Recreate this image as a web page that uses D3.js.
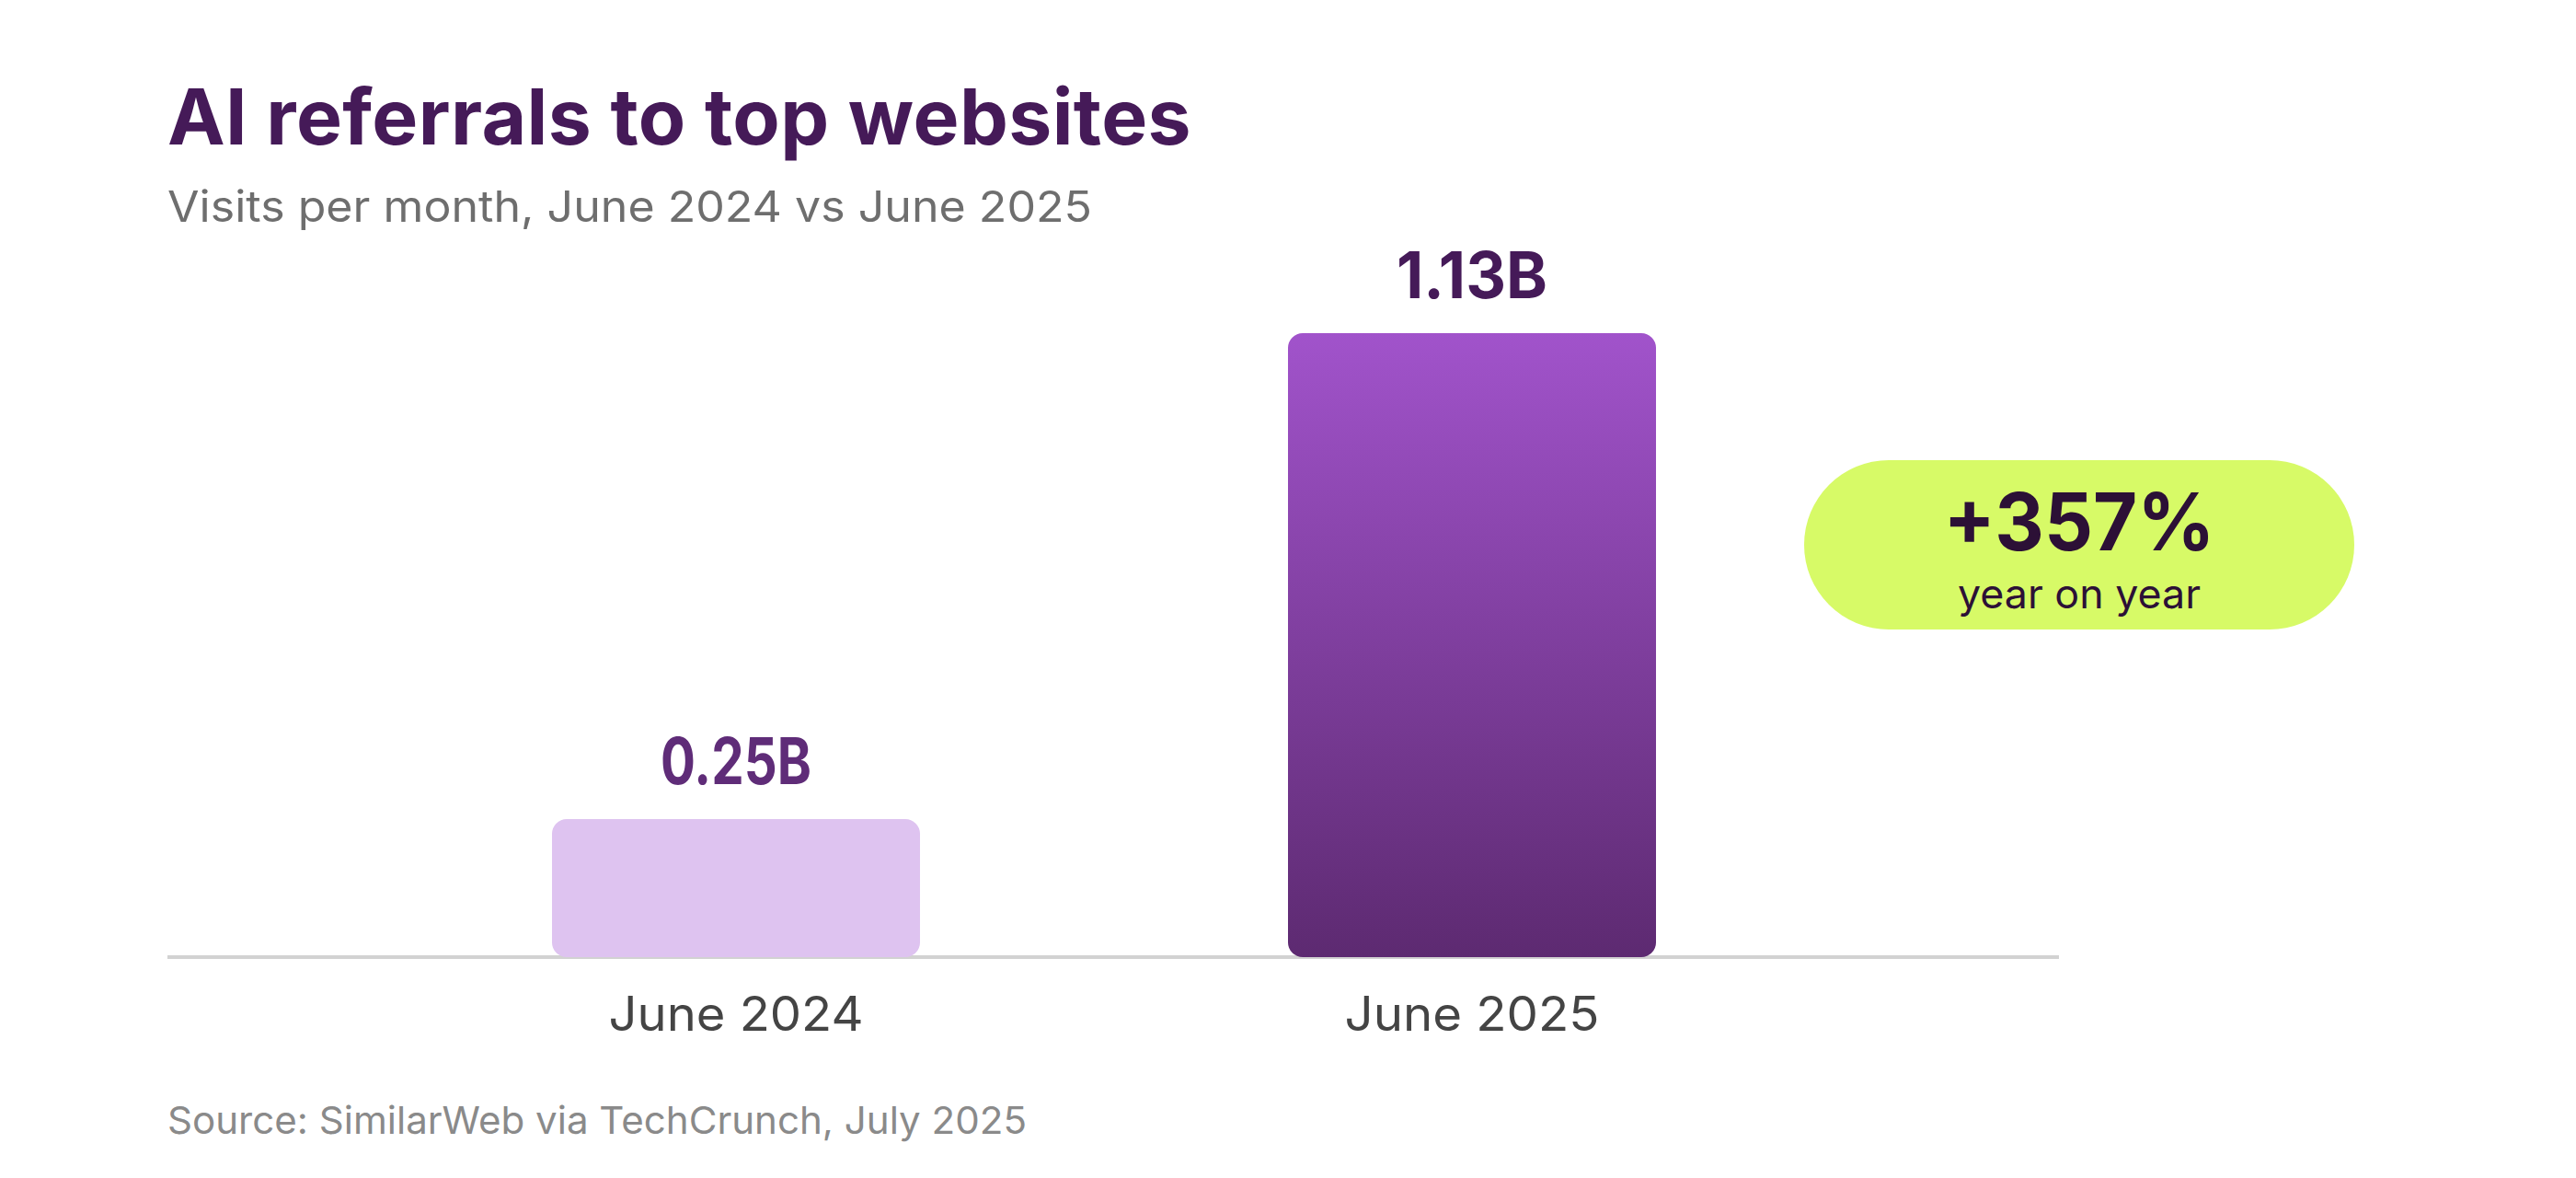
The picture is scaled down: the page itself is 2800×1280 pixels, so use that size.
<!DOCTYPE html>
<html><head><meta charset="utf-8">
<script src="https://cdn.jsdelivr.net/npm/d3@7"></script>
<style>
html,body{margin:0;padding:0;background:#fff;}
svg{display:block;}
text{font-family:Inter,"Noto Sans",sans-serif;}
</style></head>
<body>
<svg id="chart" width="2800" height="1280"></svg>
<script>
const categories = ["June 2024", "June 2025"];
const values = [0.25, 1.13];
const valueLabels = ["0.25B", "1.13B"];
const titleText = "AI referrals to top websites";
const subtitleText = "Visits per month, June 2024 vs June 2025";
const sourceText = "Source: SimilarWeb via TechCrunch, July 2025";
const changeText = "+357%";
const changeSub = "year on year";

const svg = d3.select("#chart");
const baseY = 1040;

const x = d3.scaleBand().domain(categories).range([400, 2000]).paddingInner(0.5).paddingOuter(0.25);
const y = d3.scaleLinear().domain([0, d3.max(values)]).range([baseY, 362]);

function fit(sel, target){
  const n = sel.text().length;
  const w = sel.node().getComputedTextLength();
  sel.attr("letter-spacing", ((target - w) / n).toFixed(2));
}
function squeeze(sel, target){
  sel.attr("textLength", target).attr("lengthAdjust", "spacingAndGlyphs");
}

const defs = svg.append("defs");
const g = defs.append("linearGradient").attr("id","grad").attr("x1",0).attr("y1",0).attr("x2",0).attr("y2",1);
g.append("stop").attr("offset","0%").attr("stop-color","#a153cb");
g.append("stop").attr("offset","100%").attr("stop-color","#5d2a71");

// title
fit(svg.append("text").attr("x",182).attr("y",157).attr("font-size",84).attr("font-weight",700)
  .attr("fill","#451a58").text(titleText), 1113);
squeeze(svg.append("text").attr("x",182).attr("y",241).attr("font-size",47).attr("font-weight",400)
  .attr("fill","#6e6e6e").text(subtitleText), 1005);

// axis line
svg.append("line").attr("x1",182).attr("x2",2238).attr("y1",baseY).attr("y2",baseY)
  .attr("stroke","#d2d2d2").attr("stroke-width",4);

// bars
const colors = ["#dec3f0", "url(#grad)"];
svg.selectAll("rect.bar").data(values).join("rect").attr("class","bar")
  .attr("x",(d,i)=>x(categories[i])).attr("width",x.bandwidth())
  .attr("y",d=>y(d)).attr("height",d=>baseY - y(d))
  .attr("rx",16).attr("ry",16)
  .attr("fill",(d,i)=>colors[i]);

// value labels
const labColors = ["#5f2c78", "#451a58"];
svg.selectAll("text.val").data(values).join("text").attr("class","val")
  .attr("x",(d,i)=>x(categories[i]) + x.bandwidth()/2).attr("y",d=>y(d) - 38)
  .attr("text-anchor","middle").attr("font-size",70).attr("font-weight",700)
  .attr("fill",(d,i)=>labColors[i]).text((d,i)=>valueLabels[i])
  .each(function(){ squeeze(d3.select(this), 164); });

// category labels
svg.selectAll("text.cat").data(categories).join("text").attr("class","cat")
  .attr("x",d=>x(d) + x.bandwidth()/2).attr("y",1120)
  .attr("text-anchor","middle").attr("font-size",52).attr("fill","#444")
  .text(d=>d).each(function(){ squeeze(d3.select(this), 277); });

// pill
svg.append("rect").attr("x",1961).attr("y",500).attr("width",598).attr("height",184)
  .attr("rx",92).attr("ry",92).attr("fill","#d7fa67");
squeeze(svg.append("text").attr("x",2260).attr("y",598).attr("text-anchor","middle")
  .attr("font-size",86).attr("font-weight",700).attr("fill","#2c1036").text(changeText), 295);
squeeze(svg.append("text").attr("x",2260).attr("y",661).attr("text-anchor","middle")
  .attr("font-size",44).attr("font-weight",400).attr("fill","#2c1036").text(changeSub), 264);

// source
squeeze(svg.append("text").attr("x",182).attr("y",1232).attr("font-size",41)
  .attr("fill","#8a8a8a").text(sourceText), 934);
</script>
</body></html>
